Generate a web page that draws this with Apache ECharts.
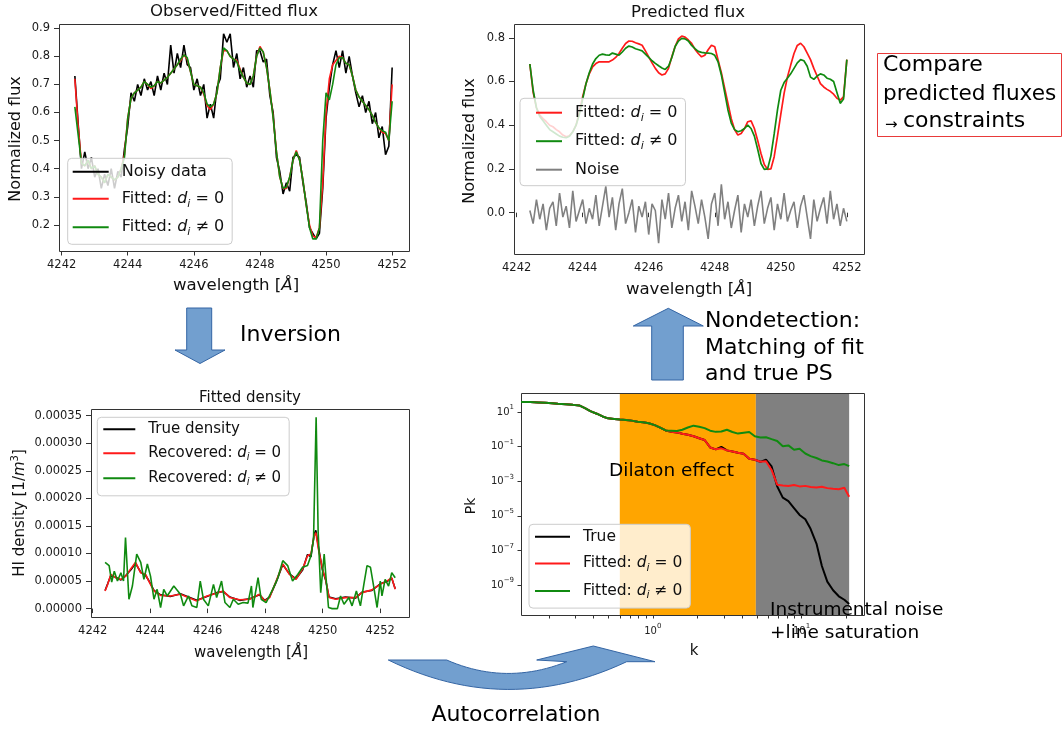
<!DOCTYPE html>
<html><head><meta charset="utf-8">
<script src="https://cdn.jsdelivr.net/npm/echarts@6/dist/echarts.min.js"></script>
<style>html,body{margin:0;padding:0;background:#fff}#c{width:1063px;height:729px}</style>
</head><body><div id="c"></div>
<script>
// ---------- DATA ----------
const wl = [
4242.4,4242.5,4242.6,4242.7,4242.8,4242.9,4243.0,4243.1,4243.2,4243.3,
4243.4,4243.5,4243.6,4243.7,4243.8,4243.9,4244.0,4244.1,4244.2,4244.3,
4244.4,4244.5,4244.6,4244.7,4244.8,4244.9,4245.0,4245.1,4245.2,4245.3,
4245.4,4245.5,4245.6,4245.7,4245.8,4245.9,4246.0,4246.1,4246.2,4246.3,
4246.4,4246.5,4246.6,4246.7,4246.8,4246.9,4247.0,4247.1,4247.2,4247.3,
4247.4,4247.5,4247.6,4247.7,4247.8,4247.9,4248.0,4248.1,4248.2,4248.3,
4248.4,4248.5,4248.6,4248.7,4248.8,4248.9,4249.0,4249.1,4249.2,4249.3,
4249.4,4249.5,4249.6,4249.7,4249.8,4249.9,4250.0,4250.1,4250.2,4250.3,
4250.4,4250.5,4250.6,4250.7,4250.8,4250.9,4251.0,4251.1,4251.2,4251.3,
4251.4,4251.5,4251.6,4251.7,4251.8,4251.9,4252.0];

const obsNoisy = [
0.73,0.56,0.40,0.46,0.40,0.44,0.37,0.40,0.33,0.38,
0.34,0.40,0.33,0.39,0.37,0.47,0.55,0.67,0.64,0.70,
0.66,0.72,0.68,0.71,0.66,0.73,0.68,0.74,0.70,0.84,
0.74,0.81,0.76,0.84,0.77,0.76,0.68,0.72,0.66,0.70,
0.58,0.63,0.58,0.69,0.72,0.88,0.85,0.88,0.76,0.81,
0.72,0.76,0.69,0.73,0.69,0.82,0.82,0.78,0.79,0.66,
0.60,0.44,0.39,0.31,0.35,0.32,0.44,0.45,0.44,0.35,
0.28,0.19,0.17,0.15,0.17,0.33,0.58,0.69,0.77,0.82,
0.76,0.82,0.74,0.80,0.73,0.67,0.62,0.66,0.60,0.64,
0.56,0.60,0.51,0.55,0.45,0.48,0.76];

const obsFit0 = [
0.72,0.55,0.42,0.41,0.43,0.40,0.41,0.38,0.37,0.35,
0.38,0.37,0.36,0.37,0.40,0.45,0.58,0.65,0.67,0.68,
0.69,0.71,0.70,0.685,0.695,0.71,0.705,0.715,0.725,0.74,
0.755,0.77,0.785,0.805,0.79,0.745,0.70,0.695,0.69,0.665,
0.625,0.61,0.63,0.67,0.76,0.82,0.82,0.80,0.79,0.785,
0.755,0.725,0.705,0.70,0.73,0.80,0.835,0.815,0.76,0.68,
0.585,0.46,0.37,0.33,0.33,0.37,0.43,0.465,0.43,0.36,
0.27,0.20,0.16,0.155,0.19,0.35,0.60,0.72,0.77,0.785,
0.80,0.795,0.775,0.77,0.73,0.68,0.655,0.64,0.625,0.61,
0.59,0.565,0.545,0.53,0.525,0.50,0.70];

const obsFitN = [
0.62,0.52,0.42,0.41,0.43,0.40,0.41,0.38,0.37,0.35,
0.38,0.37,0.36,0.37,0.40,0.44,0.58,0.65,0.67,0.68,
0.69,0.71,0.70,0.69,0.695,0.71,0.705,0.715,0.725,0.74,
0.755,0.77,0.79,0.805,0.795,0.745,0.70,0.695,0.69,0.67,
0.63,0.62,0.63,0.67,0.76,0.83,0.82,0.80,0.79,0.78,
0.75,0.725,0.705,0.70,0.73,0.80,0.83,0.815,0.76,0.68,
0.58,0.46,0.37,0.33,0.335,0.37,0.43,0.46,0.43,0.36,
0.27,0.19,0.15,0.15,0.19,0.50,0.67,0.645,0.70,0.77,
0.795,0.795,0.775,0.77,0.73,0.68,0.655,0.64,0.625,0.61,
0.59,0.565,0.545,0.535,0.53,0.50,0.64];

const predFit0 = [
0.68,0.55,0.48,0.446,0.43,0.416,0.40,0.393,0.38,0.37,
0.355,0.347,0.352,0.37,0.40,0.46,0.53,0.59,0.635,0.667,
0.682,0.69,0.69,0.69,0.69,0.698,0.71,0.728,0.752,0.774,
0.785,0.784,0.777,0.772,0.766,0.74,0.713,0.685,0.66,0.64,
0.63,0.635,0.66,0.713,0.76,0.795,0.808,0.803,0.79,0.774,
0.748,0.728,0.713,0.72,0.745,0.766,0.759,0.698,0.64,0.57,
0.50,0.43,0.38,0.355,0.362,0.385,0.416,0.42,0.385,0.33,
0.271,0.22,0.198,0.20,0.256,0.35,0.45,0.546,0.62,0.675,
0.728,0.765,0.775,0.759,0.73,0.70,0.66,0.625,0.59,0.575,
0.564,0.555,0.542,0.523,0.515,0.53,0.70];

const predFitN = [
0.68,0.56,0.48,0.44,0.42,0.40,0.38,0.37,0.36,0.35,
0.345,0.343,0.35,0.37,0.40,0.45,0.52,0.59,0.64,0.68,
0.705,0.72,0.725,0.722,0.72,0.73,0.725,0.72,0.735,0.752,
0.762,0.758,0.75,0.745,0.74,0.725,0.71,0.695,0.683,0.672,
0.662,0.655,0.67,0.71,0.76,0.785,0.797,0.795,0.785,0.765,
0.75,0.738,0.733,0.731,0.73,0.728,0.72,0.69,0.63,0.55,
0.47,0.41,0.38,0.37,0.375,0.385,0.40,0.385,0.35,0.29,
0.225,0.198,0.20,0.26,0.36,0.47,0.56,0.595,0.615,0.635,
0.66,0.685,0.70,0.695,0.67,0.62,0.61,0.625,0.635,0.63,
0.615,0.61,0.60,0.55,0.50,0.52,0.70];

const predNoise = [
0.01,-0.05,0.06,-0.03,0.04,-0.08,0.02,0.05,-0.06,0.09,
-0.02,0.03,-0.07,0.10,-0.04,0.01,0.06,-0.05,0.02,-0.03,
0.08,-0.06,0.03,0.12,-0.02,0.07,-0.08,0.04,0.11,-0.05,
0.00,0.06,-0.09,0.03,-0.02,0.05,-0.10,0.04,0.01,-0.14,
0.06,-0.03,0.09,-0.07,0.02,0.08,-0.04,0.05,-0.08,0.10,
0.03,-0.05,0.06,-0.02,-0.12,0.04,0.09,-0.06,0.13,-0.03,
0.05,-0.07,0.01,0.08,-0.09,0.04,-0.02,0.06,-0.06,0.03,
0.10,-0.05,0.02,0.07,-0.08,0.04,-0.03,0.09,-0.04,0.01,
0.05,-0.07,0.03,0.08,-0.02,-0.12,0.06,-0.04,0.02,0.07,
-0.05,0.10,-0.03,0.04,-0.06,0.02,-0.04];

const densWl = [
4242.43,4242.52,4242.63,4242.80,4242.98,4243.15,4243.32,4243.49,4243.67,4243.84,
4243.95,4244.13,4244.36,4244.70,4245.05,4245.33,4245.62,4245.97,4246.31,4246.54,
4246.77,4247.11,4247.46,4247.80,4247.98,4248.15,4248.38,4248.61,4248.84,4249.07,
4249.30,4249.47,4249.59,4249.70,4249.76,4249.85,4249.99,4250.10,4250.22,4250.45,
4250.79,4251.14,4251.37,4251.71,4252.00,4252.23,4252.40,4252.52];

const densTrue = [
3.3e-5,4.5e-5,6.0e-5,5.7e-5,5.2e-5,6.0e-5,7.0e-5,8.2e-5,6.6e-5,6.0e-5,
5.1e-5,3.3e-5,2.5e-5,2.2e-5,2.7e-5,2.1e-5,1.5e-5,2.2e-5,2.9e-5,3.1e-5,
2.1e-5,1.5e-5,1.8e-5,2.5e-5,1.5e-5,2.1e-5,4.8e-5,8.0e-5,6.3e-5,5.4e-5,
7.0e-5,9.8e-5,9.4e-5,13.5e-5,14.2e-5,11.2e-5,7.0e-5,5.2e-5,2.1e-5,1.8e-5,
2.1e-5,1.9e-5,3.0e-5,3.3e-5,4.5e-5,4.9e-5,5.5e-5,3.6e-5];

const densFit0 = [
3.2e-5,4.4e-5,6.2e-5,5.6e-5,5.3e-5,5.9e-5,7.2e-5,8.4e-5,6.5e-5,6.2e-5,
5.0e-5,3.2e-5,2.4e-5,2.3e-5,2.6e-5,2.0e-5,1.4e-5,2.3e-5,2.8e-5,3.2e-5,
2.0e-5,1.6e-5,1.7e-5,2.6e-5,1.4e-5,2.0e-5,5.0e-5,8.1e-5,6.2e-5,5.3e-5,
7.2e-5,9.6e-5,9.9e-5,13.2e-5,13.8e-5,10.8e-5,7.2e-5,5.3e-5,2.0e-5,1.7e-5,
2.0e-5,2.0e-5,2.9e-5,3.4e-5,4.4e-5,5.0e-5,5.6e-5,3.5e-5];

const densWlN = [
4242.43,4242.57,4242.66,4242.75,4242.86,4242.98,4243.07,4243.14,4243.26,4243.38,
4243.53,4243.67,4243.78,4243.90,4244.01,4244.13,4244.24,4244.36,4244.47,4244.59,
4244.82,4245.05,4245.16,4245.33,4245.45,4245.62,4245.74,4245.85,4246.02,4246.20,
4246.31,4246.48,4246.60,4246.77,4246.89,4247.06,4247.23,4247.40,4247.52,4247.57,
4247.75,4247.86,4248.03,4248.26,4248.44,4248.61,4248.78,4248.95,4249.13,4249.30,
4249.47,4249.59,4249.68,4249.77,4249.84,4249.93,4250.05,4250.10,4250.20,4250.33,
4250.51,4250.62,4250.74,4250.91,4251.02,4251.17,4251.31,4251.43,4251.54,4251.66,
4251.77,4251.89,4252.00,4252.06,4252.17,4252.29,4252.40,4252.52];

const densFitN = [
8.4e-5,7.8e-5,4.8e-5,6.8e-5,5.0e-5,6.5e-5,5.0e-5,12.9e-5,1.7e-5,4.1e-5,
9.9e-5,8.4e-5,5.3e-5,8.1e-5,5.9e-5,1.7e-5,3.5e-5,0.2e-5,3.5e-5,2.3e-5,
4.1e-5,2.6e-5,0.5e-5,2.3e-5,0.5e-5,0.2e-5,5.0e-5,1.7e-5,0.5e-5,4.4e-5,
2.0e-5,5.0e-5,1.1e-5,0.2e-5,1.7e-5,0.8e-5,1.1e-5,1.0e-5,4.1e-5,0.2e-5,
5.6e-5,1.7e-5,1.1e-5,3.5e-5,5.6e-5,8.7e-5,7.8e-5,5.0e-5,6.2e-5,7.5e-5,
7.8e-5,9.6e-5,12.6e-5,34.7e-5,14.0e-5,2.9e-5,9.9e-5,6.5e-5,0.2e-5,0,
0,2.3e-5,0.8e-5,2.0e-5,0.5e-5,3.2e-5,0.5e-5,4.4e-5,7.8e-5,7.5e-5,
4.1e-5,0.2e-5,5.0e-5,2.3e-5,5.3e-5,4.1e-5,6.5e-5,5.6e-5];

const kVals = [
0.13,0.15,0.17,0.19,0.21,0.23,0.26,0.29,0.32,0.35,
0.38,0.42,0.46,0.5,0.55,0.6,0.66,0.72,0.79,0.86,
0.94,1.03,1.12,1.22,1.33,1.45,1.58,1.72,1.88,2.05,
2.23,2.43,2.65,2.89,3.15,3.43,3.74,4.08,4.45,4.85,
5.29,5.77,6.29,6.86,7.48,8.16,8.9,9.7,10.6,11.5,
12.6,13.7,14.9,16.3,17.8,19.4,20.9];

const pkTrue = [
38.0,37.2,35.5,33.9,31.6,29.5,27.5,25.7,24.0,16.6,
11.2,7.94,5.50,4.27,3.98,3.72,3.47,3.16,2.75,2.51,
2.24,1.74,1.26,0.851,0.724,0.661,0.550,0.479,0.398,0.302,
0.240,0.0891,0.0692,0.0955,0.0603,0.0525,0.0437,0.0380,0.0200,0.0174,
0.0132,0.0178,7.08e-3,5.01e-4,1.12e-4,7.08e-5,2.82e-5,1.12e-5,6.31e-6,1.78e-6,
2.51e-7,1.26e-8,1.58e-9,5.01e-10,2.24e-10,1.41e-10,7.94e-11];

const pkFit0 = [
38.0,37.2,35.5,33.9,31.6,29.5,27.5,25.7,24.0,16.6,
11.2,7.94,5.50,4.27,3.98,3.72,3.47,3.16,2.75,2.51,
2.24,1.74,1.26,0.851,0.724,0.661,0.550,0.479,0.398,0.302,
0.240,0.0891,0.0692,0.0794,0.0603,0.0525,0.0437,0.0380,0.0200,0.0174,
0.0132,0.0141,4.47e-3,6.31e-4,5.62e-4,5.25e-4,6.03e-4,5.01e-4,5.37e-4,4.57e-4,
4.37e-4,4.79e-4,3.98e-4,3.63e-4,3.47e-4,4.17e-4,1.26e-4];

const pkFitN = [
38.0,37.2,35.5,33.9,31.6,29.5,27.5,25.7,24.0,16.6,
11.2,7.94,5.50,4.27,3.98,3.72,3.47,3.16,2.75,2.51,
2.24,1.74,1.26,0.851,0.832,0.794,0.933,1.26,1.62,1.41,
1.17,0.832,0.708,0.741,0.933,0.692,0.562,0.631,0.692,0.398,
0.339,0.347,0.269,0.209,0.105,0.117,0.0661,0.0759,0.0398,0.0282,
0.0219,0.0158,0.0138,0.0110,8.51e-3,9.77e-3,7.41e-3];

const bandDilaton = [0.6, 4.93];
const bandNoise = [4.93, 20.9];

const wlTicks = [4242,4244,4246,4248,4250,4252];
const obsYTicks = [0.2,0.3,0.4,0.5,0.6,0.7,0.8,0.9];
const predYTicks = [0,0.2,0.4,0.6,0.8];
const densYTicks = [0,0.00005,0.0001,0.00015,0.0002,0.00025,0.0003,0.00035];
const pkYTicks = [1e1,1e-1,1e-3,1e-5,1e-7,1e-9];
const kLabelTicks = [1,10];
const kTickMarks = [0.2,0.3,0.4,0.5,0.6,0.7,0.8,0.9,1,2,3,4,5,6,7,8,9,10,20];

// ---------- STYLE ----------
const MPL = 'DejaVu Sans';
const RED = '#ff1a1a', GREEN = '#108a10', BLACK = '#000000', GRAY = '#808080';
const TXT = '#111';

function legendRich(fs) {
  return {
    it: {fontFamily: MPL, fontSize: fs, fontStyle: 'italic', color: TXT},
    sub: {fontFamily: MPL, fontSize: Math.round(fs * 0.68), fontStyle: 'italic', color: TXT, padding: [Math.round(fs * 0.6), 0, 0, 0]}
  };
}
const LABELS = {
  obsNoisy: 'Noisy data',
  obsFit0: 'Fitted: {it|d}{sub|i} = 0',
  obsFitN: 'Fitted: {it|d}{sub|i} \u2260 0',
  predFit0: 'Fitted: {it|d}{sub|i} = 0',
  predFitN: 'Fitted: {it|d}{sub|i} \u2260 0',
  predNoise: 'Noise',
  densTrue: 'True density',
  densFit0: 'Recovered: {it|d}{sub|i} = 0',
  densFitN: 'Recovered: {it|d}{sub|i} \u2260 0',
  pkTrue: 'True',
  pkFit0: 'Fitted: {it|d}{sub|i} = 0',
  pkFitN: 'Fitted: {it|d}{sub|i} \u2260 0'
};
function mkLegend(names, left, top, pad, itemWidth, itemGap, lh, fs) {
  return {
    data: names, left: left, top: top, orient: 'vertical', selectedMode: false,
    icon: 'rect', itemWidth: itemWidth, itemHeight: 2, itemGap: itemGap,
    padding: pad, backgroundColor: 'rgba(255,255,255,0.8)',
    borderColor: '#cccccc', borderWidth: 1, borderRadius: 4,
    formatter: n => LABELS[n],
    textStyle: {fontFamily: MPL, fontSize: fs, lineHeight: lh, color: TXT, padding: [0, 0, 0, 8], rich: legendRich(fs)}
  };
}

function valAxis(gi, min, max, ticks, fmt, isX) {
  return {
    type: 'value', gridIndex: gi, min: min, max: max,
    axisLine: {show: false}, splitLine: {show: false},
    axisTick: {show: true, customValues: ticks, length: isX ? 4.5 : 5, lineStyle: {color: '#333', width: 1}},
    axisLabel: {customValues: ticks, formatter: fmt, margin: isX ? 8 : 9, fontFamily: MPL, fontSize: 11.5, color: '#1a1a1a'}
  };
}
const expFmt = v => { const e = Math.round(Math.log10(v)); return '10{sup|' + (e < 0 ? '\u2212' + (-e) : e) + '}'; };
const supRich = {sup: {fontFamily: MPL, fontSize: 7, color: '#222', padding: [0, 0, 9, 0]}};

function line(name, xi, color, xs, ys, width) {
  return {
    type: 'line', name: name, xAxisIndex: xi, yAxisIndex: xi, symbol: 'none', showSymbol: false,
    silent: true, animation: false, color: color, itemStyle: {color: color},
    lineStyle: {color: color, width: width || 1.6}, data: xs.map((x, i) => [x, ys[i]])
  };
}

const series = [
  line('obsNoisy', 0, BLACK, wl, obsNoisy),
  line('obsFit0', 0, RED, wl, obsFit0),
  line('obsFitN', 0, GREEN, wl, obsFitN),
  line('predFit0', 1, RED, wl, predFit0, 1.7),
  line('predFitN', 1, GREEN, wl, predFitN, 1.7),
  line('predNoise', 1, GRAY, wl, predNoise),
  line('densTrue', 2, BLACK, densWl, densTrue),
  line('densFit0', 2, RED, densWl, densFit0),
  line('densFitN', 2, GREEN, densWlN, densFitN),
  line('pkTrue', 3, BLACK, kVals, pkTrue, 2),
  line('pkFit0', 3, RED, kVals, pkFit0, 2),
  line('pkFitN', 3, GREEN, kVals, pkFitN, 2)
];
series[9].markArea = {
  silent: true,
  label: {show: false},
  data: [
    [{xAxis: bandDilaton[0], itemStyle: {color: '#ffa500', opacity: 1, borderWidth: 0}}, {xAxis: bandDilaton[1]}],
    [{xAxis: bandNoise[0], itemStyle: {color: '#808080', opacity: 1, borderWidth: 0}}, {xAxis: bandNoise[1]}]
  ]
};

// ---------- DECORATION ----------
function quad(p0, c, p1, n) {
  const pts = [];
  for (let i = 0; i <= n; i++) {
    const t = i / n, a = (1 - t) * (1 - t), b = 2 * (1 - t) * t, d = t * t;
    pts.push([a * p0[0] + b * c[0] + d * p1[0], a * p0[1] + b * c[1] + d * p1[1]]);
  }
  return pts;
}
const ARROW_FILL = '#729fcf', ARROW_STROKE = '#3465a4';
const curvedArrow = [[388.3, 660], [446.7, 660]]
  .concat(quad([446.7, 660], [506, 686], [566.7, 661.7], 24))
  .concat([[536.7, 660], [593.3, 646], [655, 661.7], [626.7, 661.7]])
  .concat(quad([626.7, 661.7], [507, 718], [388.3, 660], 28));

function txt(x, y, text, fs, opts) {
  opts = opts || {};
  return {
    type: 'text', x: x, y: y, z: 10, rotation: opts.rot || 0, silent: true,
    style: {
      text: text, fontFamily: MPL, fontSize: fs, fill: opts.color || TXT,
      align: opts.align || 'center', verticalAlign: 'middle',
      textAlign: opts.align || 'center', textVerticalAlign: 'middle',
      rich: opts.rich
    }
  };
}
function spine(x, y, w, h) {
  return {type: 'rect', z: 3, silent: true, shape: {x: x + 0.5, y: y + 0.5, width: w, height: h},
    style: {fill: null, stroke: '#333', lineWidth: 1}};
}
const itRich = fs => ({it: {fontFamily: MPL, fontSize: fs, fontStyle: 'italic', fill: TXT, color: TXT},
  sup: {fontFamily: MPL, fontSize: Math.round(fs * 0.68), fill: TXT, color: TXT, padding: [0, 0, 10, 0]}});

const graphics = [
  spine(59, 24, 350, 227), spine(514, 24, 350, 230), spine(91, 409, 318, 208), spine(521, 393, 343, 222),
  txt(234, 12, 'Observed/Fitted flux', 16.6),
  txt(688, 13, 'Predicted flux', 16.6),
  txt(250, 398, 'Fitted density', 15),
  txt(236, 286, 'wavelength [{it|\u00c5}]', 16.6, {rich: itRich(16.6)}),
  txt(689, 290, 'wavelength [{it|\u00c5}]', 16.6, {rich: itRich(16.6)}),
  txt(251, 653, 'wavelength [{it|\u00c5}]', 15, {rich: itRich(15)}),
  txt(16, 139, 'Normalized flux', 16, {rot: Math.PI / 2}),
  txt(470, 141, 'Normalized flux', 16, {rot: Math.PI / 2}),
  txt(20, 513, 'HI density [1/{it|m}{sup|3}]', 15, {rot: Math.PI / 2, rich: itRich(15)}),
  txt(471, 506, 'Pk', 14, {rot: Math.PI / 2}),
  txt(694, 651, 'k', 15),
  txt(609, 471, 'Dilaton effect', 18.5, {align: 'left', color: '#000'}),
  txt(770, 610.5, 'Instrumental noise', 18.5, {align: 'left', color: '#000'}),
  txt(770, 633.5, '+line saturation', 18.5, {align: 'left', color: '#000'}),
  txt(240, 335.5, 'Inversion', 22, {align: 'left', color: '#000'}),
  txt(705, 321.5, 'Nondetection:', 22, {align: 'left', color: '#000'}),
  txt(705, 348, 'Matching of fit', 22, {align: 'left', color: '#000'}),
  txt(705, 374, 'and true PS', 22, {align: 'left', color: '#000'}),
  txt(516, 715, 'Autocorrelation', 22, {color: '#000'}),
  {type: 'rect', z: 10, silent: true, shape: {x: 877.5, y: 53.5, width: 184, height: 83},
    style: {fill: null, stroke: '#e83a3a', lineWidth: 1}},
  txt(883, 65.7, 'Compare', 22, {align: 'left', color: '#000'}),
  txt(883, 94, 'predicted fluxes', 21.6, {align: 'left', color: '#000'}),
  txt(885, 125, '\u2192', 15, {align: 'left', color: '#000'}),
  txt(903, 121.7, 'constraints', 22, {align: 'left', color: '#000'}),
  {type: 'polygon', z: 8, silent: true,
    shape: {points: [[186.7, 308], [211.7, 308], [211.7, 350], [225, 350], [200, 363.5], [175, 350], [186.7, 350]]},
    style: {fill: ARROW_FILL, stroke: ARROW_STROKE, lineWidth: 1}},
  {type: 'polygon', z: 8, silent: true,
    shape: {points: [[668.3, 308.3], [703.3, 326], [683.3, 326], [683.3, 380], [651.7, 380], [651.7, 326], [633.3, 326]]},
    style: {fill: ARROW_FILL, stroke: ARROW_STROKE, lineWidth: 1}},
  {type: 'polygon', z: 8, silent: true, shape: {points: curvedArrow},
    style: {fill: ARROW_FILL, stroke: ARROW_STROKE, lineWidth: 1}}
];

const option = {
  animation: false,
  backgroundColor: '#ffffff',
  grid: [
    {left: 59, top: 24, width: 350, height: 227, show: false, outerBoundsMode: 'none'},
    {left: 514, top: 24, width: 350, height: 230, show: false, outerBoundsMode: 'none'},
    {left: 91, top: 409, width: 318, height: 208, show: false, outerBoundsMode: 'none'},
    {left: 521, top: 393, width: 343, height: 222, show: false, outerBoundsMode: 'none'}
  ],
  xAxis: [
    valAxis(0, 4241.92, 4252.51, wlTicks, v => String(v), true),
    valAxis(1, 4241.92, 4252.52, wlTicks, v => String(v), true),
    valAxis(2, 4241.94, 4253.0, wlTicks, v => String(v), true),
    {
      type: 'log', logBase: 10, gridIndex: 3, min: 0.13, max: 26.3,
      axisLine: {show: false}, splitLine: {show: false},
      axisTick: {show: true, customValues: kTickMarks, length: 3.5, lineStyle: {color: '#333'}},
      axisLabel: {customValues: kLabelTicks, formatter: expFmt, margin: 8, fontFamily: MPL, fontSize: 10, color: '#222', rich: supRich}
    }
  ],
  yAxis: [
    valAxis(0, 0.107, 0.915, obsYTicks, v => v.toFixed(1), false),
    valAxis(1, -0.189, 0.863, predYTicks, v => v.toFixed(1), false),
    valAxis(2, -0.0000152, 0.000362, densYTicks, v => v.toFixed(5), false),
    {
      type: 'log', logBase: 10, gridIndex: 3, min: 1.86e-11, max: 124.7,
      axisLine: {show: false}, splitLine: {show: false},
      axisTick: {show: true, customValues: pkYTicks, length: 3.5, lineStyle: {color: '#333'}},
      axisLabel: {customValues: pkYTicks, formatter: expFmt, margin: 7, fontFamily: MPL, fontSize: 10, color: '#222', rich: supRich}
    }
  ],
  legend: [
    mkLegend(['obsNoisy', 'obsFit0', 'obsFitN'], 67.7, 158.3, [4.5, 8, 6.5, 5], 36, 9, 18, 16),
    mkLegend(['predFit0', 'predFitN', 'predNoise'], 520, 98.3, [5.4, 8, 7, 16], 26, 9, 18, 16),
    mkLegend(['densTrue', 'densFit0', 'densFitN'], 97.3, 417.3, [3.5, 8, 8, 6], 32, 7, 17, 15),
    mkLegend(['pkTrue', 'pkFit0', 'pkFitN'], 529, 524.3, [3.4, 8, 7, 6], 35, 8.7, 18, 15.5)
  ],
  series: series,
  graphic: {elements: graphics}
};

const chart = echarts.init(document.getElementById('c'));
chart.setOption(option);
</script>
</body></html>
